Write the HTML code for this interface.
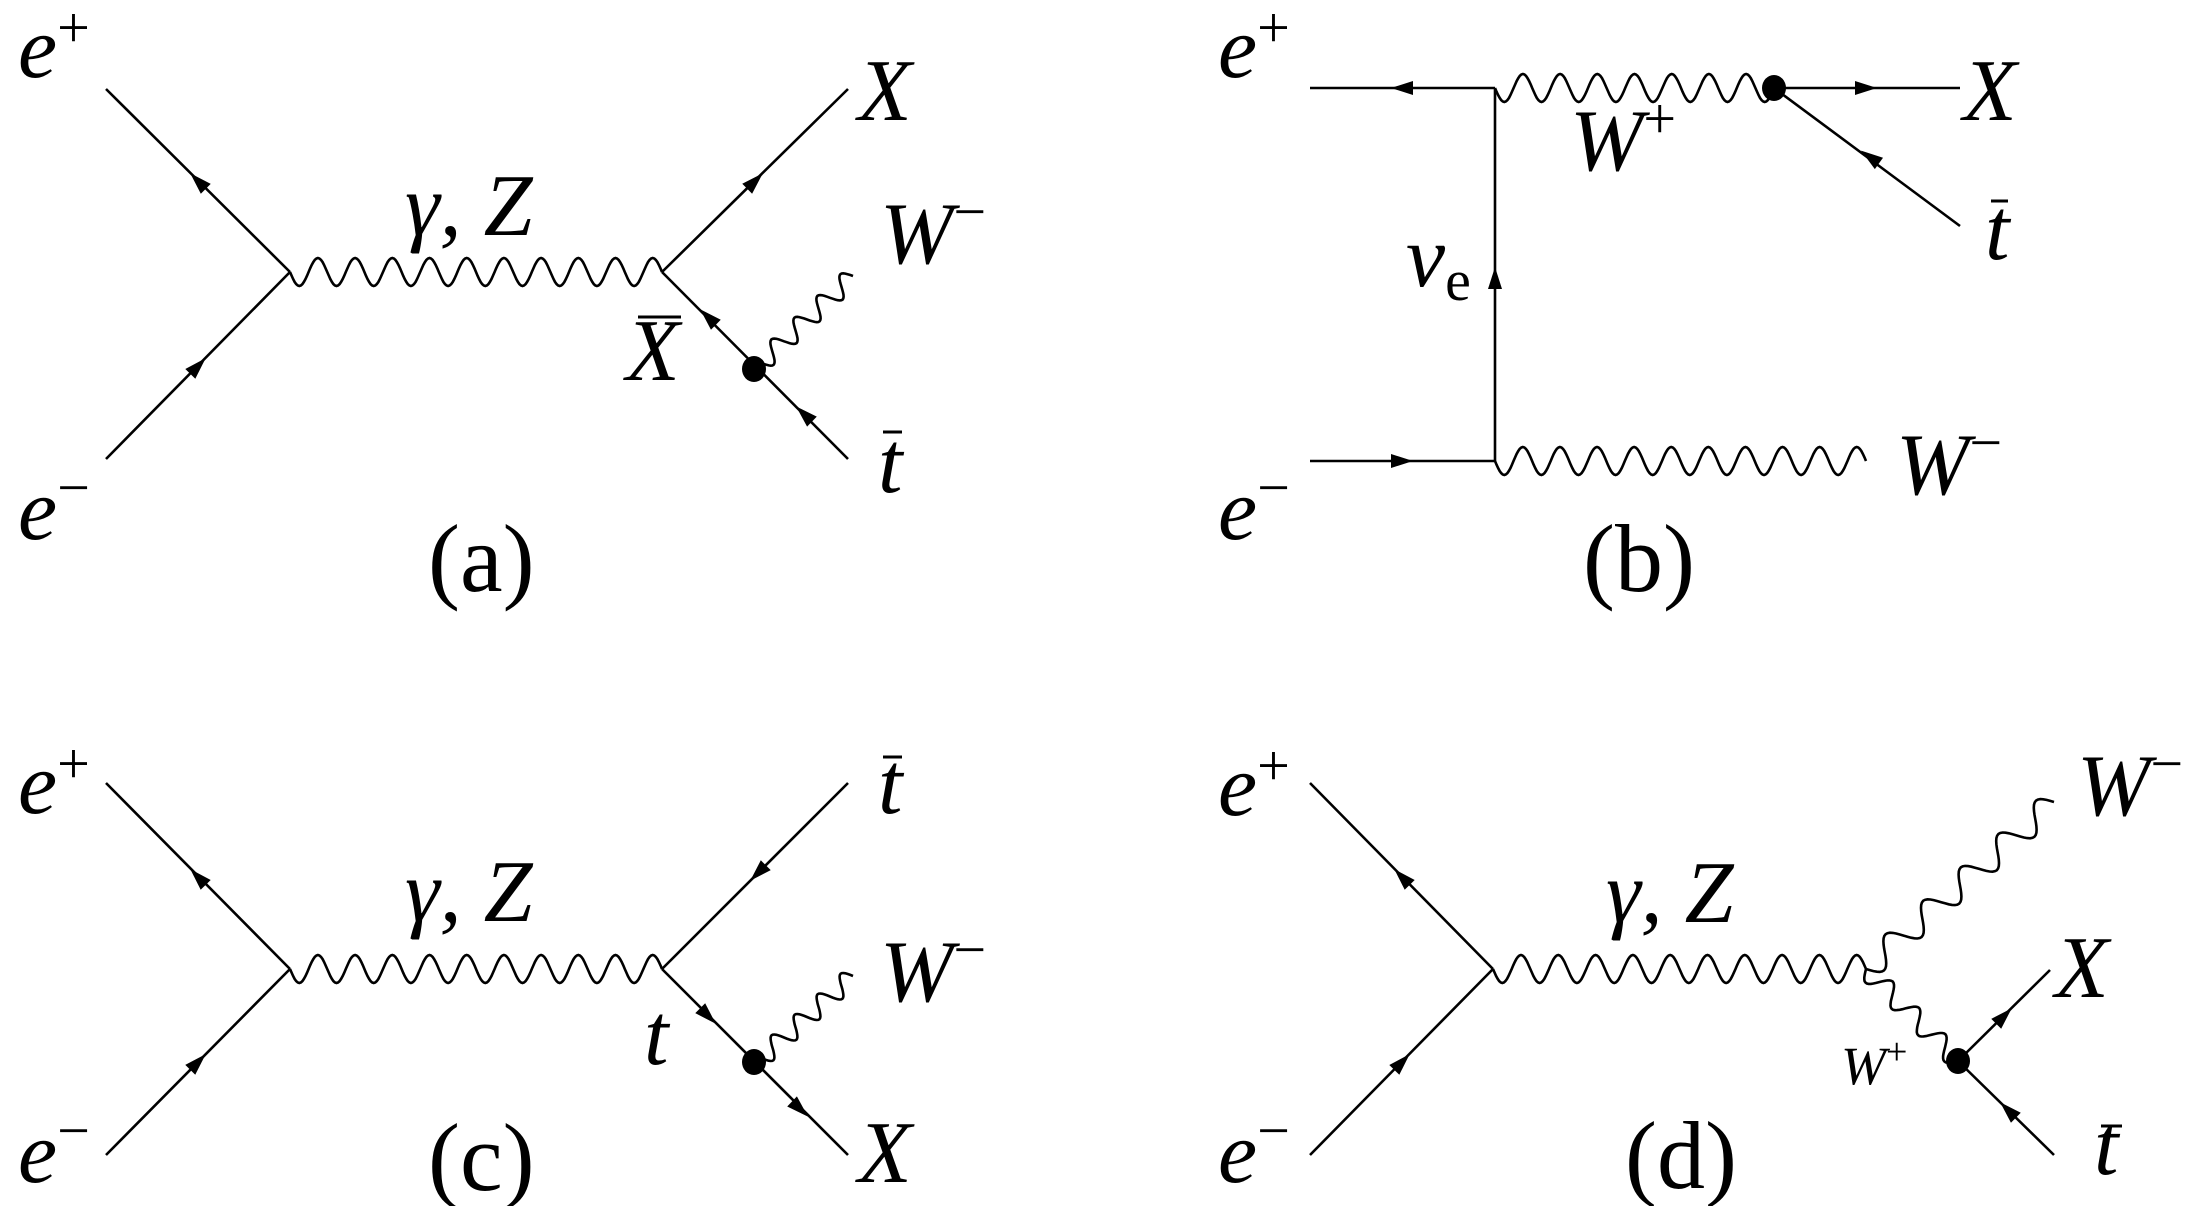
<!DOCTYPE html>
<html><head><meta charset="utf-8">
<style>
html,body{margin:0;padding:0;background:#fff;}
svg{display:block;}
text{font-family:"Liberation Serif","DejaVu Serif",serif;fill:#000;}
.i{font-style:italic;font-size:88px;}
.u{font-size:96px;}
.s{font-size:58px;font-style:normal;}
</style></head>
<body>
<svg id="svg" width="2211" height="1206" viewBox="0 0 2211 1206" xmlns="http://www.w3.org/2000/svg" font-family="Liberation Serif, serif">
<g id="g" stroke="#000" stroke-width="2.6" fill="none"></g>
<g id="f" fill="#000"></g>
<!-- (a) -->
<text class="i" x="18" y="77">e<tspan class="s" dy="-30">+</tspan></text>
<text class="i" x="18" y="539">e<tspan class="s" dy="-32">−</tspan></text>
<text class="i" x="405" y="235">γ, Z</text>
<text class="i" x="858" y="120">X</text>
<text class="i" x="880" y="263">W<tspan class="s" dy="-32">−</tspan></text>
<text class="i" x="626" y="380">X</text>
<text class="i" x="878" y="492">t</text>
<text class="u" x="428" y="591">(a)</text>
<!-- (b) -->
<text class="i" x="1218" y="77">e<tspan class="s" dy="-30">+</tspan></text>
<text class="i" x="1218" y="539">e<tspan class="s" dy="-32">−</tspan></text>
<text class="i" x="1570" y="170">W<tspan class="s" dy="-32">+</tspan></text>
<text class="i" x="1963" y="120">X</text>
<text class="i" x="1985" y="259">t</text>
<text class="i" x="1406" y="286">ν<tspan class="s" font-style="italic" dy="14">e</tspan></text>
<text class="i" x="1896" y="494">W<tspan class="s" dy="-32">−</tspan></text>
<text class="u" x="1583" y="591">(b)</text>
<!-- (c) -->
<text class="i" x="18" y="813">e<tspan class="s" dy="-30">+</tspan></text>
<text class="i" x="18" y="1182">e<tspan class="s" dy="-32">−</tspan></text>
<text class="i" x="405" y="921">γ, Z</text>
<text class="i" x="878" y="813">t</text>
<text class="i" x="880" y="1001">W<tspan class="s" dy="-32">−</tspan></text>
<text class="i" x="644" y="1064">t</text>
<text class="i" x="858" y="1182">X</text>
<text class="u" x="428" y="1190">(c)</text>
<!-- (d) -->
<text class="i" x="1218" y="815">e<tspan class="s" dy="-30">+</tspan></text>
<text class="i" x="1218" y="1182">e<tspan class="s" dy="-32">−</tspan></text>
<text class="i" x="1606" y="922">γ, Z</text>
<text class="i" x="2077" y="815">W<tspan class="s" dy="-32">−</tspan></text>
<text class="i" x="2055" y="997">X</text>
<text class="i" x="1841" y="1084" style="font-size:54px">W<tspan style="font-size:38px;font-style:normal" dy="-20">+</tspan></text>
<text class="i" x="2094" y="1174">t</text>
<text class="u" x="1625" y="1188">(d)</text>
</svg>
<script>
const g=document.getElementById('g'),f=document.getElementById('f'),NS='http://www.w3.org/2000/svg';
function el(p,n,a){const e=document.createElementNS(NS,n);for(const k in a)e.setAttribute(k,a[k]);p.appendChild(e);return e;}
function L(x1,y1,x2,y2){el(g,'line',{x1,y1,x2,y2});}
function W(x1,y1,x2,y2,per,amp){const dx=x2-x1,dy=y2-y1,len=Math.hypot(dx,dy),ux=dx/len,uy=dy/len,nx=-uy,ny=ux;let d='';const N=Math.ceil(per*24);for(let i=0;i<=N;i++){const t=i/N,s=amp*Math.sin(2*Math.PI*per*t);const x=x1+dx*t+nx*s,y=y1+dy*t+ny*s;d+=(i?'L':'M')+x.toFixed(1)+' '+y.toFixed(1);}el(g,'path',{d});}
function A(x,y,tx,ty){const len=Math.hypot(tx-x,ty-y);const ux=(tx-x)/len,uy=(ty-y)/len;const h=22,w=7;const bx=x-ux*h/2,by=y-uy*h/2,px=x+ux*h/2,py=y+uy*h/2;el(f,'polygon',{points:`${px},${py} ${bx-uy*w},${by+ux*w} ${bx+uy*w},${by-ux*w}`});}
function D(x,y){el(f,'ellipse',{cx:x,cy:y,rx:12,ry:13});}
function B(x1,x2,y){el(g,'line',{x1,y1:y,x2,y2:y,'stroke-width':3});}
// (a)
L(106,89,290,272);L(106,459,290,272);W(290,272,662,272,10,14);
L(662,272,848,89);L(662,272,848,459);W(761,363,853,276,4,10);D(754,369);
A(198,181,106,89);A(198,366,290,272);A(755,181,848,89);A(708,317,662,272);A(804,414,754,366);
B(883,902,432);B(638,681,317);
// (b)
L(1310,88,1495,88);L(1495,88,1495,461);L(1310,461,1495,461);
W(1495,88,1774,88,7.5,14);W(1495,461,1866,461,10,14);
L(1774,88,1960,88);L(1774,88,1960,226);D(1774,88);
A(1402,88,1310,88);A(1495,278,1495,88);A(1402,461,1495,461);A(1866,88,1960,88);A(1870,157,1774,88);
B(1991,2008,201);
// (c)
L(106,783,290,969);L(106,1155,290,969);W(290,969,662,969,10,14);
L(662,969,848,783);L(662,969,848,1155);W(761,1058,853,976,4,10);D(754,1062);
A(198,877,106,783);A(198,1062,290,969);A(758,873,662,969);A(708,1016,754,1062);A(800,1109,848,1155);
B(883,902,757);
// (d)
L(1310,783,1493,969);L(1310,1155,1493,969);W(1493,969,1866,969,10,14);
W(1866,969,2054,802,5,13);W(1866,969,1958,1061,3.5,10);
L(1958,1061,2050,970);L(1958,1061,2054,1155);D(1958,1061);
A(1402,877,1310,783);A(1402,1062,1493,969);A(2004,1016,2050,970);A(2008,1110,1958,1061);
B(2101,2122,1126);
</script>
</body></html>
